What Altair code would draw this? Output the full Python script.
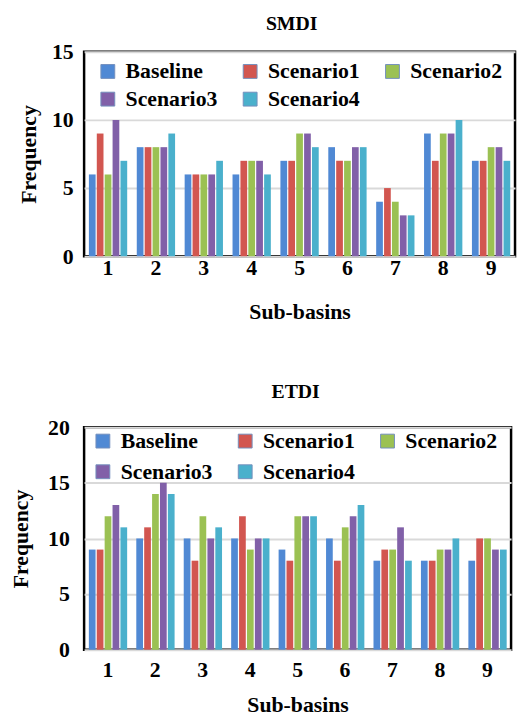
import altair as alt
import pandas as pd

subbasins = ["1", "2", "3", "4", "5", "6", "7", "8", "9"]
scenarios = ["Baseline", "Scenario1", "Scenario2", "Scenario3", "Scenario4"]
colors = ["#5089d4", "#d25650", "#9bc153", "#8160a8", "#4ab0cc"]
# order in which the legend lists the series (it fills column by column)
legend_order = ["Baseline", "Scenario3", "Scenario1", "Scenario4", "Scenario2"]

# SMDI frequencies per sub-basin
smdi_baseline = [6, 8, 6, 6, 7, 8, 4, 9, 7]
smdi_s1 = [9, 8, 6, 7, 7, 7, 5, 7, 7]
smdi_s2 = [6, 8, 6, 7, 9, 7, 4, 9, 8]
smdi_s3 = [10, 8, 6, 7, 9, 8, 3, 9, 8]
smdi_s4 = [7, 9, 7, 6, 8, 8, 3, 10, 7]

# ETDI frequencies per sub-basin
etdi_baseline = [9, 10, 10, 10, 9, 10, 8, 8, 8]
etdi_s1 = [9, 11, 8, 12, 8, 8, 9, 8, 10]
etdi_s2 = [12, 14, 12, 9, 12, 11, 9, 9, 10]
etdi_s3 = [13, 15, 10, 10, 12, 12, 11, 9, 9]
etdi_s4 = [11, 14, 11, 10, 12, 13, 8, 10, 9]

smdi_ticks = [0, 5, 10, 15]
etdi_ticks = [0, 5, 10, 15, 20]

FONT = "Liberation Serif"

color_of = dict(zip(scenarios, colors))
legend_colors = [color_of[s] for s in legend_order]


def long_df(series):
    rows = []
    for name, vals in zip(scenarios, series):
        for sb, v in zip(subbasins, vals):
            rows.append({"Sub-basin": sb, "Scenario": name, "Frequency": v})
    return pd.DataFrame(rows)


def panel(df, title, ticks, width, height, title_dx, title_dy, title_offset,
          y_label_pad, y_title_pad, x_label_pad, x_title_pad,
          leg_x, leg_y, row_pad, col_pad):
    return alt.Chart(
        df,
        title=alt.TitleParams(title, font=FONT, fontSize=20, fontWeight="bold",
                              color="black", anchor="middle", dx=title_dx,
                              dy=title_dy, offset=title_offset),
    ).mark_bar().encode(
        x=alt.X("Sub-basin:N", sort=subbasins,
                scale=alt.Scale(paddingInner=0.2, paddingOuter=0.1),
                axis=alt.Axis(title="Sub-basins", labelAngle=0, ticks=False,
                              domain=False, grid=False,
                              labelPadding=x_label_pad, titlePadding=x_title_pad)),
        xOffset=alt.XOffset("Scenario:N", sort=scenarios,
                            scale=alt.Scale(paddingInner=0.15)),
        y=alt.Y("Frequency:Q",
                scale=alt.Scale(domain=[ticks[0], ticks[-1]], nice=False),
                axis=alt.Axis(title="Frequency", values=ticks, ticks=False,
                              domain=False, gridColor="#d9d9d9", gridWidth=2,
                              labelPadding=y_label_pad, titlePadding=y_title_pad)),
        color=alt.Color("Scenario:N",
                        scale=alt.Scale(domain=legend_order, range=legend_colors),
                        legend=alt.Legend(orient="none", legendX=leg_x,
                                          legendY=leg_y, columns=3, title=None,
                                          symbolType="square", symbolSize=196,
                                          symbolStrokeColor="#7390bd",
                                          symbolStrokeWidth=1,
                                          labelFont=FONT, labelFontSize=22,
                                          labelFontWeight="bold",
                                          labelColor="black", labelOffset=7,
                                          columnPadding=col_pad, rowPadding=row_pad,
                                          padding=0)),
    ).properties(width=width, height=height)


top = panel(long_df([smdi_baseline, smdi_s1, smdi_s2, smdi_s3, smdi_s4]),
            "SMDI", smdi_ticks, 436, 207, -8, -5, 2, 11, 11, 1, 24, 13, 9, 6, 22)
bottom = panel(long_df([etdi_baseline, etdi_s1, etdi_s2, etdi_s3, etdi_s4]),
               "ETDI", etdi_ticks, 432, 225, -2, 0, 15, 15, 15, 10, 15, 8, 3, 9, 22)

chart = alt.vconcat(top, bottom, spacing=56).resolve_scale(
    color="independent"
).properties(
    padding={"left": 0, "top": 0, "right": 0, "bottom": 0}
).configure_view(
    stroke="black", strokeWidth=2.5
).configure_axis(
    labelFont=FONT, labelFontSize=22, labelFontWeight="bold", labelColor="black",
    titleFont=FONT, titleFontSize=22, titleFontWeight="bold", titleColor="black",
)

chart.save("out.html", embed_options={"renderer": "svg", "actions": False})
